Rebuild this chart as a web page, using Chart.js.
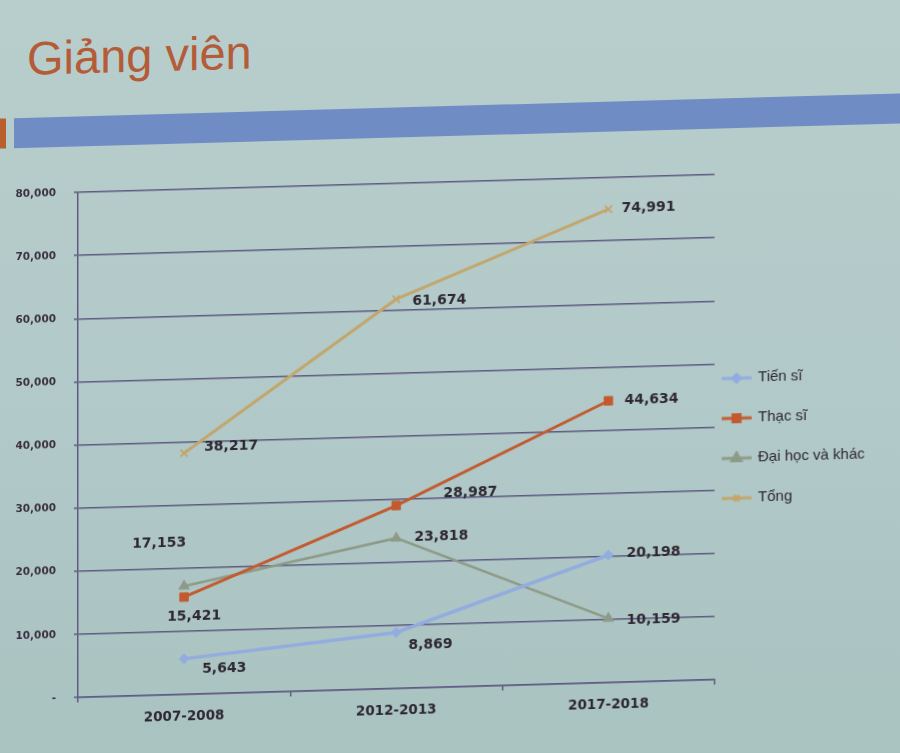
<!DOCTYPE html>
<html>
<head>
<meta charset="utf-8">
<script src="https://cdn.jsdelivr.net/npm/chart.js@4.4.1/dist/chart.umd.min.js"></script>
<style>
  html, body { margin: 0; padding: 0; }
  body {
    width: 900px; height: 753px; overflow: hidden;
    background: linear-gradient(180deg, #b8cecd 0%, #b1c9c8 55%, #a9c3c1 100%);
  }
  #page {
    position: relative; width: 900px; height: 753px;
    transform: skewY(-1.6deg); transform-origin: 450px 376px;
  }
  .title {
    position: absolute; left: 27px; top: 23px;
    font: 47px "Liberation Sans", Arial, sans-serif; line-height: 47px;
    color: #b45c38;
  }
  .band { position: absolute; left: 14px; top: 106px; width: 960px; height: 30px; background: #6f8dc4; }
  .mark { position: absolute; left: 0; top: 106px; width: 6px; height: 30px; background: #b8602e; }
  canvas { position: absolute; left: 0; top: 0; }
</style>
</head>
<body>
<div id="page">
  <div class="title">Giảng viên</div>
  <div class="mark"></div>
  <div class="band"></div>
  <canvas id="chart" width="900" height="753"></canvas>
</div>
<script>
// dữ liệu
const categories = ['2007-2008', '2012-2013', '2017-2018']
const tienSi = [5643, 8869, 20198]
const thacSi = [15421, 28987, 44634]
const daiHoc = [17153, 23818, 10159]
const tong = [38217, 61674, 74991]
const seriesNames = ['Tiến sĩ', 'Thạc sĩ', 'Đại học và khác', 'Tổng']
const yMax = 80000
const yStep = 10000

const gridColor = '#5e5981'
const textColor = '#2e2731'
const colors = ['#92acdf', '#c35a2f', '#8e9a88', '#c2a66c']
const styles = ['rectRot', 'rect', 'triangle', 'crossRot']
const radii = [5, 6, 6, 5]
const widths = [3.5, 3, 2.5, 3]

// vị trí nhãn số so với điểm (dx, dy, canh lề)
const labelPos = [
  [[18, 11, 'left'], [12, 13, 'left'], [18, -1, 'left']],
  [[-17, 20, 'left'], [47, -11, 'left'], [16, 0, 'left']],
  [[-52, -43, 'left'], [18, 0, 'left'], [18, 2, 'left']],
  [[20, -5, 'left'], [16, 3, 'left'], [13, 0, 'left']]
]

// biểu tượng chú giải: đoạn thẳng + dấu
function legendIcon(i) {
  const c = document.createElement('canvas')
  c.width = 30
  c.height = 14
  const ctx = c.getContext('2d')
  ctx.strokeStyle = colors[i]
  ctx.lineWidth = 3
  ctx.beginPath()
  ctx.moveTo(0, 7)
  ctx.lineTo(30, 7)
  ctx.stroke()
  ctx.fillStyle = colors[i]
  ctx.strokeStyle = colors[i]
  Chart.helpers.drawPoint(ctx, { pointStyle: styles[i], radius: radii[i] - 1, rotation: 0, borderWidth: 2 }, 15, 7)
  return c
}
const icons = seriesNames.map((n, i) => legendIcon(i))

const valueLabels = {
  id: 'valueLabels',
  afterDatasetsDraw(chart) {
    const ctx = chart.ctx
    ctx.save()
    ctx.font = 'bold 14px "DejaVu Sans", sans-serif'
    ctx.fillStyle = textColor
    ctx.textBaseline = 'middle'
    chart.data.datasets.forEach((ds, i) => {
      chart.getDatasetMeta(i).data.forEach((pt, j) => {
        const [dx, dy, align] = labelPos[i][j]
        ctx.textAlign = align
        ctx.fillText(ds.data[j].toLocaleString('en-US'), pt.x + dx, pt.y + dy)
      })
    })
    ctx.restore()
  }
}

// kéo chú giải sát vào vùng vẽ
const legendShift = {
  id: 'legendShift',
  afterLayout(chart) {
    const lg = chart.legend
    if (!lg) return
    const d = lg.left - (chart.chartArea.right - 17)
    lg.left -= d
    lg.right -= d
  }
}

new Chart(document.getElementById('chart'), {
  type: 'line',
  data: {
    labels: categories,
    datasets: [tienSi, thacSi, daiHoc, tong].map((vals, i) => ({
      label: seriesNames[i],
      data: vals,
      borderColor: colors[i],
      backgroundColor: colors[i],
      borderWidth: widths[i],
      pointStyle: styles[i],
      pointRadius: radii[i],
      pointBorderWidth: i === 3 ? 2 : 1,
      pointBackgroundColor: colors[i],
      pointBorderColor: colors[i],
      tension: 0,
      clip: false
    }))
  },
  options: {
    responsive: false,
    animation: false,
    layout: { padding: { top: 182, left: 0, right: 8, bottom: 0 } },
    plugins: {
      tooltip: { enabled: false },
      legend: {
        position: 'right',
        fullSize: false,
        align: 'center',
        title: { display: true, text: ' ', font: { size: 2 }, padding: { top: 21, bottom: 0 } },
        labels: {
          usePointStyle: true,
          pointStyleWidth: 28,
          padding: 25,
          color: textColor,
          font: { family: '"Liberation Sans", Arial, sans-serif', size: 15 },
          generateLabels(chart) {
            const items = Chart.defaults.plugins.legend.labels.generateLabels(chart)
            items.forEach((it, i) => { it.pointStyle = icons[i] })
            return items
          }
        }
      }
    },
    scales: {
      x: {
        offset: true,
        afterFit(s) { s.height = 66 },
        grid: { offset: true, drawOnChartArea: false, drawTicks: true, tickLength: 5, color: gridColor, lineWidth: 1.5 },
        border: { display: true, color: gridColor, width: 1.5 },
        ticks: {
          color: textColor,
          padding: 9,
          font: { family: '"DejaVu Sans", sans-serif', size: 13.5, weight: 'bold' }
        }
      },
      y: {
        min: 0,
        max: yMax,
        afterFit(s) { s.width = 78 },
        grid: { color: gridColor, lineWidth: 1.5, tickLength: 4 },
        border: { display: true, color: gridColor, width: 1.5 },
        ticks: {
          stepSize: yStep,
          color: '#3b3040',
          padding: 18,
          font: { family: '"DejaVu Sans", sans-serif', size: 10.5, weight: 'bold' },
          callback: v => v === 0 ? '-' : v.toLocaleString('en-US')
        }
      }
    }
  },
  plugins: [valueLabels, legendShift]
})
</script>
</body>
</html>
